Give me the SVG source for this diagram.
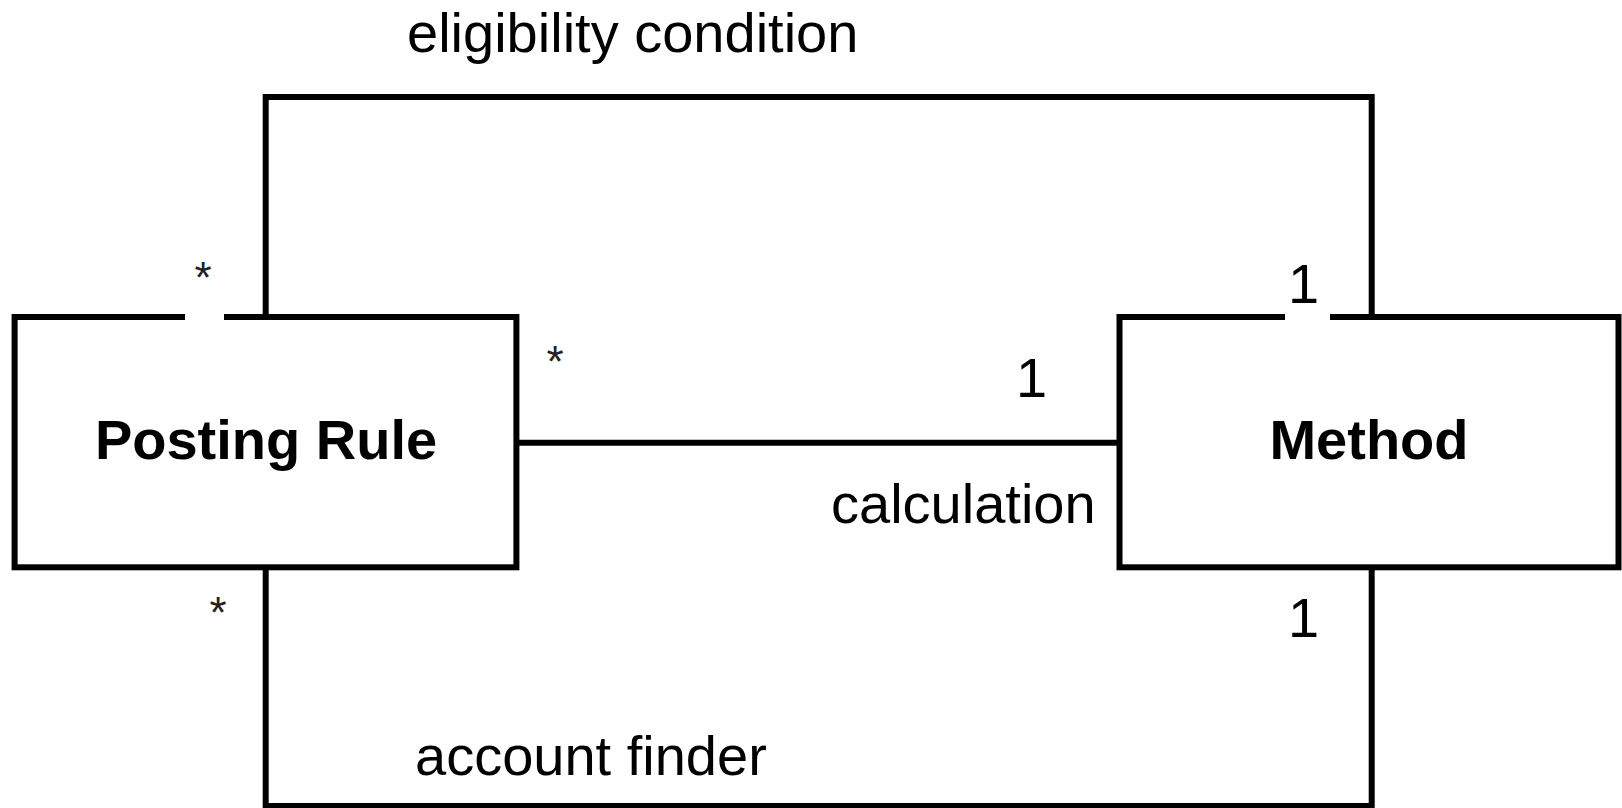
<svg xmlns="http://www.w3.org/2000/svg" width="1622" height="808" viewBox="0 0 1622 808">
<style>
.edge{fill:none;stroke:#000;stroke-width:6;stroke-linecap:square}
.box{fill:#fff;stroke:#000;stroke-width:6}
.title{font-family:"Liberation Sans",Arial,sans-serif;font-size:56px;font-weight:bold;fill:#000;text-anchor:middle}
.lbl{font-family:"Liberation Sans",Arial,sans-serif;font-size:56px;fill:#000}
.star{font-family:"Liberation Sans",Arial,sans-serif;font-size:44px;fill:#222;text-anchor:middle}
.bg{fill:#fff}
</style>
<rect width="1622" height="808" fill="#fff"/>
<g id="connectors">
<path class="edge" d="M265.7,317 V97 H1371.7 V317"/>
<path class="edge" d="M516.4,442.7 H1119.5"/>
<path class="edge" d="M265.7,567.3 V806 H1371.7 V567.3"/>
</g>
<g id="node-posting-rule">
<rect class="box" x="14.6" y="317" width="501.8" height="250.3"/>
<text class="title" x="266" y="459">Posting Rule</text>
</g>
<g id="node-method">
<rect class="box" x="1119.5" y="317" width="499" height="250.3"/>
<text class="title" x="1369" y="459">Method</text>
</g>
<g id="labels">
<text class="lbl" x="407" y="52">eligibility condition</text>
<rect class="bg" x="185" y="312" width="39" height="10"/>
<text class="star" x="203" y="292.5">*</text>
<rect class="bg" x="1285" y="312" width="45" height="10"/>
<text class="lbl" x="1288" y="303">1</text>
<text class="star" x="555" y="376.5">*</text>
<text class="lbl" x="1016" y="397">1</text>
<text class="lbl" x="831" y="523">calculation</text>
<text class="star" x="218" y="627.5">*</text>
<text class="lbl" x="1288" y="637">1</text>
<text class="lbl" x="415" y="775">account finder</text>
</g>
</svg>
